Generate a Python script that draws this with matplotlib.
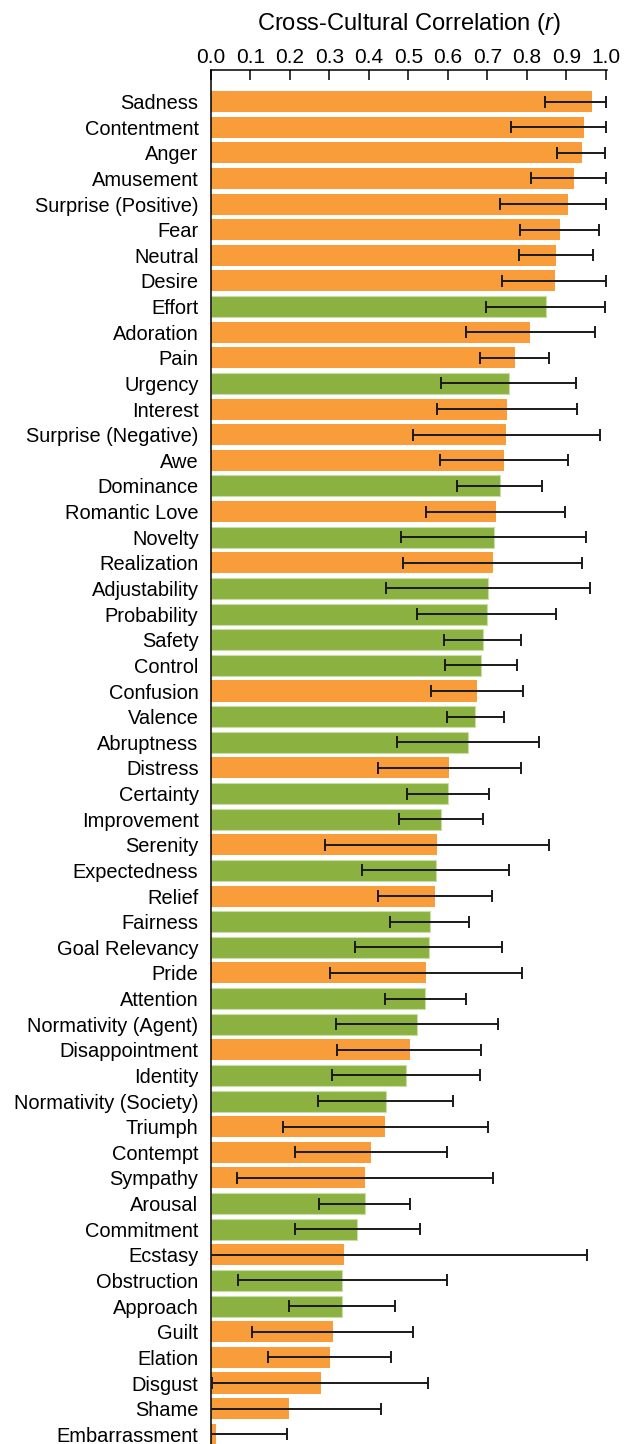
import numpy as np
import matplotlib
matplotlib.use("Agg")
import matplotlib.pyplot as plt

plt.rcParams['font.family'] = ['Liberation Sans', 'DejaVu Sans']
plt.rcParams['mathtext.fontset'] = 'custom'
plt.rcParams['mathtext.it'] = 'Liberation Sans:italic'
plt.rcParams['mathtext.rm'] = 'Liberation Sans'

labels = ['Sadness', 'Contentment', 'Anger', 'Amusement', 'Surprise (Positive)',
          'Fear', 'Neutral', 'Desire', 'Effort', 'Adoration', 'Pain', 'Urgency',
          'Interest', 'Surprise (Negative)', 'Awe', 'Dominance', 'Romantic Love',
          'Novelty', 'Realization', 'Adjustability', 'Probability', 'Safety',
          'Control', 'Confusion', 'Valence', 'Abruptness', 'Distress', 'Certainty',
          'Improvement', 'Serenity', 'Expectedness', 'Relief', 'Fairness',
          'Goal Relevancy', 'Pride', 'Attention', 'Normativity (Agent)',
          'Disappointment', 'Identity', 'Normativity (Society)', 'Triumph',
          'Contempt', 'Sympathy', 'Arousal', 'Commitment', 'Ecstasy',
          'Obstruction', 'Approach', 'Guilt', 'Elation', 'Disgust', 'Shame',
          'Embarrassment']

# 'e' = emotion category (orange), 'a' = appraisal dimension (green)
kind = ['e', 'e', 'e', 'e', 'e', 'e', 'e', 'e', 'a', 'e', 'e', 'a',
        'e', 'e', 'e', 'a', 'e', 'a', 'e', 'a', 'a', 'a', 'a', 'e',
        'a', 'a', 'e', 'a', 'a', 'e', 'a', 'e', 'a', 'a', 'e', 'a',
        'a', 'e', 'a', 'a', 'e', 'e', 'e', 'a', 'a', 'e', 'a', 'a',
        'e', 'e', 'e', 'e', 'e']

r_values = [0.965, 0.944, 0.939, 0.919, 0.904, 0.884, 0.874, 0.871, 0.848,
            0.808, 0.770, 0.754, 0.750, 0.747, 0.742, 0.731, 0.722, 0.716,
            0.715, 0.702, 0.699, 0.689, 0.684, 0.674, 0.669, 0.652, 0.604,
            0.600, 0.583, 0.573, 0.569, 0.568, 0.554, 0.551, 0.545, 0.543,
            0.523, 0.503, 0.494, 0.442, 0.441, 0.404, 0.391, 0.389, 0.371,
            0.338, 0.333, 0.331, 0.308, 0.301, 0.278, 0.197, 0.013]

ci_low = [0.846, 0.759, 0.876, 0.811, 0.731, 0.782, 0.779, 0.737, 0.696,
          0.646, 0.682, 0.583, 0.572, 0.511, 0.580, 0.624, 0.545, 0.480,
          0.486, 0.444, 0.523, 0.591, 0.593, 0.556, 0.598, 0.471, 0.422,
          0.497, 0.476, 0.290, 0.383, 0.422, 0.454, 0.365, 0.302, 0.440,
          0.317, 0.320, 0.306, 0.272, 0.182, 0.212, 0.065, 0.274, 0.212,
          -0.05, 0.069, 0.198, 0.103, 0.145, 0.003, -0.05, -0.05]

ci_high = [1.0, 1.0, 0.999, 1.0, 1.0, 0.984, 0.968, 1.0, 0.997,
           0.972, 0.857, 0.924, 0.927, 0.985, 0.904, 0.838, 0.896, 0.950,
           0.940, 0.960, 0.875, 0.785, 0.774, 0.790, 0.741, 0.832, 0.785,
           0.704, 0.690, 0.856, 0.755, 0.711, 0.654, 0.736, 0.788, 0.645,
           0.727, 0.684, 0.682, 0.613, 0.701, 0.597, 0.715, 0.504, 0.530,
           0.952, 0.598, 0.465, 0.511, 0.457, 0.550, 0.431, 0.192]

ORANGE = '#F99D3A'
GREEN = '#8BB240'

r = np.array(r_values)
lo = np.array(ci_low)
hi = np.array(ci_high)
y = np.arange(len(labels))
colors = [ORANGE if k == 'e' else GREEN for k in kind]
edges = ['none' if k == 'e' else '#C9DEA6' for k in kind]

fig = plt.figure(figsize=(6.33, 14.44), dpi=100)
ax = fig.add_axes([211 / 633, 0.0, 396 / 633, 1374 / 1444])

ax.barh(y, r, height=0.82, color=colors, edgecolor=edges, linewidth=0.8, zorder=2)
ax.errorbar(r, y, xerr=[r - lo, hi - r], fmt='none', ecolor='#1a1a1a',
            elinewidth=1.4, capsize=4.4, capthick=1.4, zorder=3)

ax.set_xlim(0, 1.003)
ax.set_ylim(len(labels) - 1 + 0.38, -1.23)

ax.set_yticks(y)
ax.set_yticklabels(labels, fontsize=14.4)
ax.tick_params(axis='y', length=0, pad=9)

ax.xaxis.tick_top()
ax.set_xticks(np.arange(0, 1.01, 0.1))
ax.set_xticklabels(['%.1f' % v for v in np.arange(0, 1.01, 0.1)], fontsize=15)
ax.tick_params(axis='x', direction='in', length=7.2, width=1.1, pad=2.4)

# axis title, placed by its baseline
fig.text((211 + 198) / 633, 1 - 30 / 1444, 'Cross-Cultural Correlation ($r$)',
         fontsize=17, ha='center', va='baseline')

ax.spines['right'].set_visible(False)
ax.spines['bottom'].set_visible(False)
ax.spines['top'].set_linewidth(1.1)
ax.spines['left'].set_linewidth(1.1)

fig.savefig('out.png', dpi=100)
